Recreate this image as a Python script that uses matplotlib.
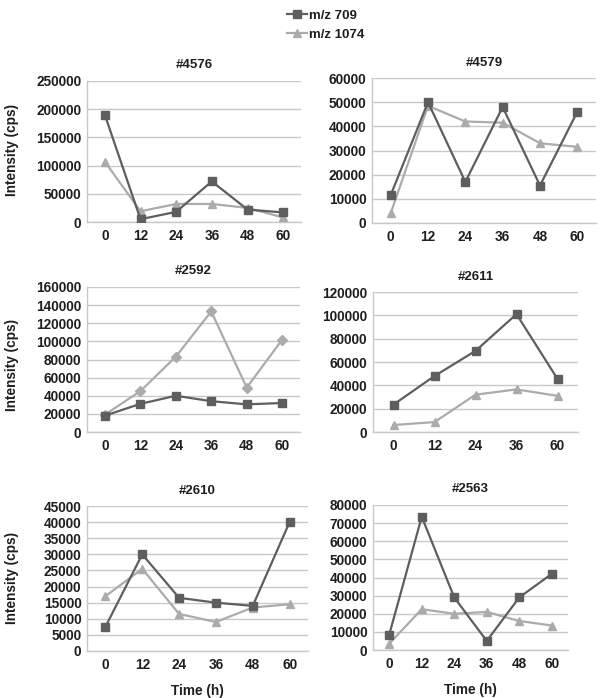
import matplotlib
matplotlib.use("Agg")
import matplotlib.pyplot as plt
from matplotlib.lines import Line2D

plt.rcParams['font.family'] = ['Liberation Sans', 'DejaVu Sans']
plt.rcParams['font.weight'] = 'bold'

# data
times6 = ["0", "12", "24", "36", "48", "60"]
times5 = ["0", "12", "24", "36", "60"]

titles = ["#4576", "#4579", "#2592", "#2611", "#2610", "#2563"]

mz709_4576 = [190000, 5000, 18000, 72000, 22000, 17000]
mz1074_4576 = [107000, 19000, 32000, 32000, 25000, 8000]

mz709_4579 = [11500, 50000, 17000, 48000, 15500, 46000]
mz1074_4579 = [4000, 48500, 42000, 41500, 33000, 31500]

mz709_2592 = [18000, 31000, 40000, 34000, 30500, 32000]
mz1074_2592 = [19000, 45000, 83000, 133000, 49000, 102000]

mz709_2611 = [23500, 48000, 69500, 101000, 45500]
mz1074_2611 = [6000, 8500, 32000, 36500, 31000]

mz709_2610 = [7500, 30000, 16500, 15000, 14000, 40000]
mz1074_2610 = [17000, 25500, 11500, 9000, 13500, 14500]

mz709_2563 = [8500, 73500, 29000, 5000, 29000, 42000]
mz1074_2563 = [3500, 22500, 20000, 21000, 16000, 13500]

ymax = [250000, 60000, 160000, 120000, 45000, 80000]
ystep = [50000, 10000, 20000, 20000, 5000, 10000]

dark = '#5e5e5e'
light = '#ababab'
grid = '#c8c8c8'
txt = '#1e1e1e'

W, H = 601, 698
fig = plt.figure(figsize=(W / 100, H / 100), dpi=100)

# axes boxes in pixels: left, right, top, bottom
boxes = [(87, 301, 81, 222), (372, 596, 78, 223),
         (87, 300, 287, 432), (373, 578, 292, 432),
         (87, 308, 506, 651), (373, 568, 505, 650)]

panels = [
    (times6, mz709_4576, mz1074_4576, '^'),
    (times6, mz709_4579, mz1074_4579, '^'),
    (times6, mz709_2592, mz1074_2592, 'D'),
    (times5, mz709_2611, mz1074_2611, '^'),
    (times6, mz709_2610, mz1074_2610, '^'),
    (times6, mz709_2563, mz1074_2563, '^'),
]

for i, (cats, a, b, m2) in enumerate(panels):
    l, r, t, btm = boxes[i]
    ax = fig.add_axes([l / W, 1 - btm / H, (r - l) / W, (btm - t) / H])
    x = list(range(len(cats)))
    ax.plot(x, b, color=light, lw=1.6, marker=m2,
            ms=5 if m2 == 'D' else 6, zorder=3)
    ax.plot(x, a, color=dark, lw=1.6, marker='s', ms=6, zorder=4)
    ax.set_xlim(-0.5, len(cats) - 0.5)
    ax.set_ylim(0, ymax[i])
    ax.set_yticks(range(0, ymax[i] + 1, ystep[i]))
    ax.set_xticks(x)
    ax.set_xticklabels(cats)
    ax.yaxis.grid(True, color=grid, lw=1)
    ax.set_axisbelow(True)
    for s in ['top', 'right']:
        ax.spines[s].set_visible(False)
    for s in ['left', 'bottom']:
        ax.spines[s].set_color(grid)
        ax.spines[s].set_linewidth(1)
    ax.tick_params(length=0, labelsize=9.8, colors=txt, pad=4)
    ax.tick_params(axis='x', pad=5)
    for lab in ax.get_xticklabels() + ax.get_yticklabels():
        lab.set_fontweight('bold')
    ax.set_title(titles[i], fontsize=9.5, fontweight='bold', color=txt, pad=9)
    if i >= 4:
        ax.set_xlabel("Time (h)", fontsize=9.8, fontweight='bold',
                      color=txt, labelpad=9)

# y labels for each row
for yc in [150, 365, 578]:
    fig.text(12 / W, 1 - yc / H, "Intensity (cps)", rotation=90,
             ha='center', va='center', fontsize=9.8, fontweight='bold',
             color=txt)

handles = [Line2D([], [], color=dark, lw=1.6, marker='s', ms=6),
           Line2D([], [], color=light, lw=1.6, marker='^', ms=6)]
fig.legend(handles, ["m/z 709", "m/z 1074"], loc='upper left',
           bbox_to_anchor=(275 / W, 1 + 2 / H), frameon=False,
           prop={'size': 9.5, 'weight': 'bold'}, handlelength=1.5,
           handletextpad=0.2, labelspacing=0.5, labelcolor=txt)

fig.savefig("out.png", dpi=100)
